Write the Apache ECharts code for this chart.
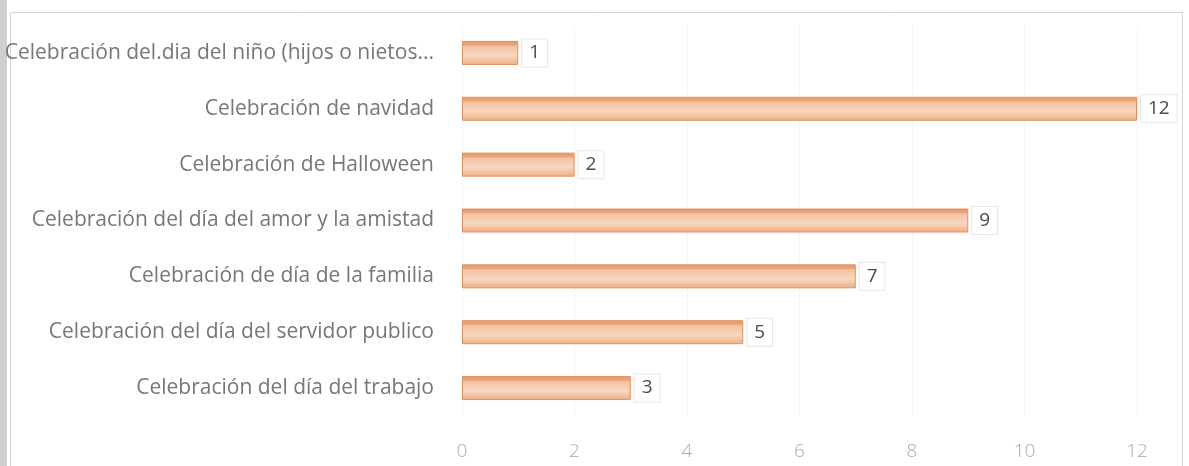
<!DOCTYPE html>
<html><head><meta charset="utf-8">
<script src="https://cdn.jsdelivr.net/npm/echarts@6/dist/echarts.min.js"></script>
<style>html,body{margin:0;padding:0;background:#fff}#c{width:1189px;height:466px}</style>
</head><body><div id="c"></div>
<script>
const categories = [
  "Celebración del.dia del niño (hijos o nietos...",
  "Celebración de navidad",
  "Celebración de Halloween",
  "Celebración del día del amor y la amistad",
  "Celebración de día de la familia",
  "Celebración del día del servidor publico",
  "Celebración del día del trabajo"
];
const values = [1, 12, 2, 9, 7, 5, 3];
const xTicks = [0, 2, 4, 6, 8, 10, 12];

const chart = echarts.init(document.getElementById('c'));
chart.setOption({
  backgroundColor: '#ffffff',
  animation: false,
  graphic: [
    {type: 'rect', left: 0, top: 0, shape: {width: 7, height: 466},
     style: {fill: '#cfcfcf'}, silent: true},
    {type: 'rect', left: 8, top: 10, shape: {width: 1172, height: 470},
     style: {fill: 'none', stroke: '#d4d4d4', lineWidth: 1}, silent: true}
  ],
  grid: {left: 462, right: 52, top: 25, bottom: 50, containLabel: false, outerBoundsMode: 'none'},
  xAxis: {
    type: 'value', min: xTicks[0], max: xTicks[xTicks.length - 1], interval: 2,
    axisLine: {show: false}, axisTick: {show: false},
    splitLine: {show: true, lineStyle: {color: '#f4f4f4'}},
    axisLabel: {color: '#ababab', fontSize: 19, margin: 26, fontFamily: 'Open Sans', fontWeight: 300}
  },
  yAxis: {
    type: 'category', data: categories, inverse: true,
    axisLine: {show: false}, axisTick: {show: false},
    axisLabel: {color: '#777777', fontSize: 21, margin: 28, fontFamily: 'Open Sans'}
  },
  series: [{
    type: 'bar', data: values, barWidth: 24,
    itemStyle: {
      color: new echarts.graphic.LinearGradient(0, 0, 0, 1, [
        {offset: 0, color: '#e4996a'},
        {offset: 0.18, color: '#eaa77c'},
        {offset: 0.22, color: '#f3c0a0'},
        {offset: 0.6, color: '#f8d8c0'},
        {offset: 1, color: '#eeae85'}
      ]),
      borderColor: '#dd9060', borderWidth: 1
    },
    label: {
      show: true, position: 'right', distance: 4,
      color: '#4a4a4a', fontSize: 19, fontFamily: 'Open Sans',
      backgroundColor: '#ffffff', borderColor: '#e8e8e8', borderWidth: 1,
      padding: [4, 7]
    }
  }]
});
</script></body></html>
